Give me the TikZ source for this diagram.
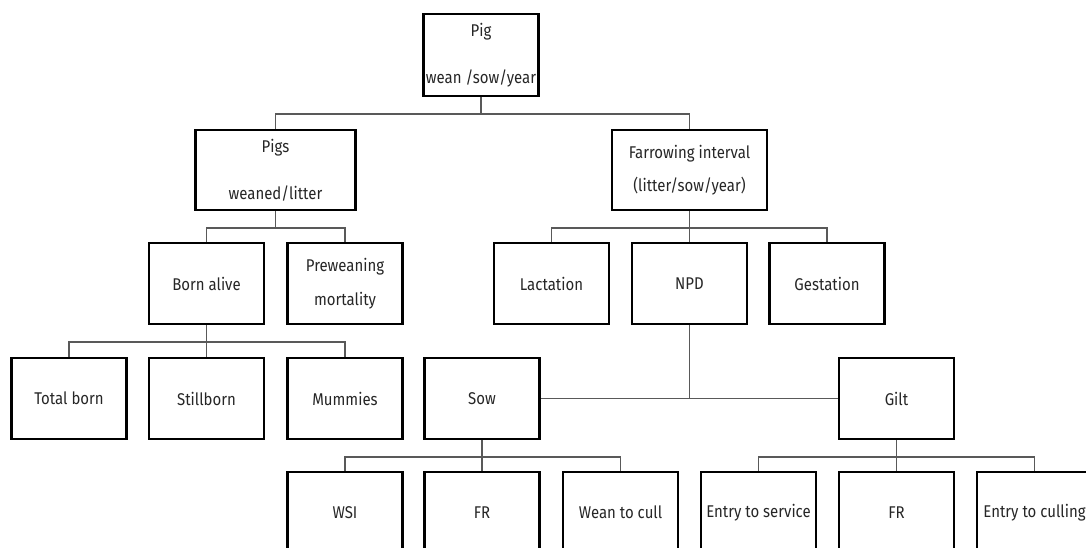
\documentclass[tikz,border=0pt]{standalone}
\usepackage{fontspec}
\setmainfont[FakeStretch=0.88]{Fira Sans}
\begin{document}
\begin{tikzpicture}[x=1pt,y=-1pt,
  box/.style={draw=black,line width=2.6pt,minimum width=115pt,minimum height=81pt,
    inner sep=0pt,align=center,text=black!85,font=\fontsize{17}{20}\selectfont},
  conn/.style={draw=black!65,line width=1.4pt}]
\clip (0,0) rectangle (1086,547);
\useasboundingbox (0,0) rectangle (1086,547);
\fill[white] (0,0) rectangle (1086,547);
% row 1
\node[box,minimum height=82pt] (pig) at (481,55) {Pig\\[27pt]wean /sow/year};
% row 2
\node[box,minimum width=160pt,minimum height=80pt] (pigs) at (275.5,170) {Pigs\\[27pt]weaned/litter};
\node[box,minimum width=155pt,minimum height=80pt] (farrow) at (689.5,170) {Farrowing interval\\[13pt](litter/sow/year)};
% row 3
\node[box] (born) at (206.5,283.5) {Born alive};
\node[box] (prew) at (345,283.5) {Preweaning\\[14pt]mortality};
\node[box] (lact) at (551.5,283.5) {Lactation};
\node[box] (npd) at (689.5,283.5) {NPD};
\node[box] (gest) at (827,283.5) {Gestation};
% row 4
\node[box] (total) at (69,398.5) {Total born};
\node[box] (still) at (206.5,398.5) {Stillborn};
\node[box] (mumm) at (345,398.5) {Mummies};
\node[box] (sow) at (482,398.5) {Sow};
\node[box] (gilt) at (896.5,398.5) {Gilt};
% row 5
\node[box] (wsi) at (345,512.5) {WSI};
\node[box] (fra) at (482,512.5) {FR};
\node[box] (wcull) at (620.5,512.5) {Wean to cull};
\node[box] (ets) at (758.5,512.5) {Entry to service};
\node[box] (frb) at (896.5,512.5) {FR};
\node[box] (etc) at (1034.5,512.5) {Entry to culling};
% junctions
\coordinate (j1) at (481,114);
\coordinate (j2) at (275.5,228);
\coordinate (j3) at (689.5,228);
\coordinate (j4) at (206.5,342);
\coordinate (j5) at (482,457);
\coordinate (j6) at (896.5,457);
% connectors
\draw[conn] (pig.south) -- (j1);
\draw[conn] (pigs.north) |- (j1) -| (farrow.north);
\draw[conn] (pigs.south) -- (j2);
\draw[conn] (born.north) |- (j2) -| (prew.north);
\draw[conn] (farrow.south) -- (j3);
\draw[conn] (lact.north) |- (j3) -| (gest.north);
\draw[conn] (j3) -- (npd.north);
\draw[conn] (born.south) -- (j4);
\draw[conn] (total.north) |- (j4) -| (mumm.north);
\draw[conn] (j4) -- (still.north);
\draw[conn] (npd.south) -- (npd.south |- sow.east);
\draw[conn] (sow.east) -- (gilt.west);
\draw[conn] (sow.south) -- (j5);
\draw[conn] (wsi.north) |- (j5) -| (wcull.north);
\draw[conn] (j5) -- (fra.north);
\draw[conn] (gilt.south) -- (j6);
\draw[conn] (ets.north) |- (j6) -| (etc.north);
\draw[conn] (j6) -- (frb.north);
\end{tikzpicture}
\end{document}
